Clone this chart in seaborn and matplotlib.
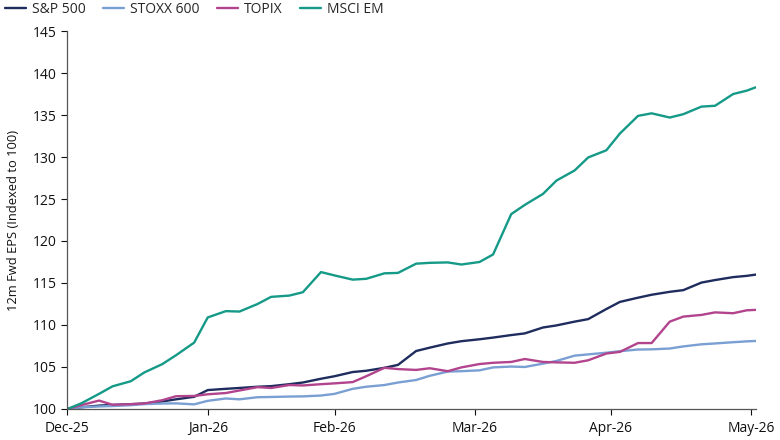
import pandas as pd
import matplotlib
matplotlib.use('agg')
import matplotlib.pyplot as plt
import seaborn as sns

dates = ['2025-12-01', '2025-12-04', '2025-12-08', '2025-12-11', '2025-12-15', '2025-12-18',
         '2025-12-22', '2025-12-25', '2025-12-29', '2026-01-01', '2026-01-05', '2026-01-08',
         '2026-01-12', '2026-01-15', '2026-01-19', '2026-01-22', '2026-01-26', '2026-01-29',
         '2026-02-02', '2026-02-05', '2026-02-09', '2026-02-12', '2026-02-16', '2026-02-19',
         '2026-02-23', '2026-02-26', '2026-03-02', '2026-03-05', '2026-03-09', '2026-03-12',
         '2026-03-16', '2026-03-19', '2026-03-23', '2026-03-26', '2026-03-30', '2026-04-02',
         '2026-04-06', '2026-04-09', '2026-04-13', '2026-04-16', '2026-04-20', '2026-04-23',
         '2026-04-27', '2026-04-30', '2026-05-02']

sp500 = [100.0, 100.2, 100.4, 100.48, 100.57, 100.65, 100.9, 101.15, 101.45, 102.25,
         102.4, 102.5, 102.65, 102.72, 102.95, 103.15, 103.6, 103.9, 104.4, 104.55,
         104.9, 105.25, 106.9, 107.3, 107.8, 108.07, 108.3, 108.5, 108.8, 109.0,
         109.7, 109.95, 110.4, 110.7, 111.9, 112.75, 113.25, 113.6, 113.95, 114.15,
         115.05, 115.35, 115.7, 115.85, 116.0]

stoxx600 = [100.0, 100.2, 100.3, 100.35, 100.45, 100.58, 100.65, 100.67, 100.55, 100.97,
            101.25, 101.15, 101.4, 101.43, 101.48, 101.5, 101.6, 101.8, 102.4, 102.65,
            102.85, 103.15, 103.45, 103.95, 104.45, 104.5, 104.6, 104.95, 105.05, 105.0,
            105.4, 105.72, 106.35, 106.5, 106.7, 106.88, 107.08, 107.1, 107.2, 107.45,
            107.7, 107.8, 107.95, 108.05, 108.1]

topix = [100.0, 100.45, 101.0, 100.5, 100.57, 100.65, 101.05, 101.52, 101.55, 101.75,
         101.9, 102.2, 102.6, 102.5, 102.85, 102.8, 102.95, 103.05, 103.2, 103.9,
         104.9, 104.75, 104.65, 104.85, 104.5, 104.95, 105.35, 105.5, 105.6, 105.95,
         105.6, 105.55, 105.5, 105.8, 106.6, 106.8, 107.85, 107.85, 110.4, 111.0,
         111.2, 111.5, 111.4, 111.75, 111.8]

msci_em = [100.0, 100.65, 101.8, 102.7, 103.3, 104.35, 105.35, 106.4, 107.9, 110.9,
           111.65, 111.6, 112.5, 113.35, 113.5, 113.9, 116.3, 115.9, 115.4, 115.5,
           116.15, 116.2, 117.3, 117.4, 117.45, 117.2, 117.5, 118.4, 123.2, 124.3,
           125.6, 127.2, 128.4, 129.95, 130.8, 132.8, 134.9, 135.2, 134.7, 135.1,
           136.0, 136.1, 137.5, 137.9, 138.3]

series_names = ['S&P 500', 'STOXX 600', 'TOPIX', 'MSCI EM']
colors = ['#1e2c5e', '#7a9fd3', '#b2448e', '#159a88']

# x tick labels as placed on the original axis
tick_dates = ['2025-12-01', '2026-01-01', '2026-01-29', '2026-03-01', '2026-03-31', '2026-05-01']
tick_labels = ['Dec-25', 'Jan-26', 'Feb-26', 'Mar-26', 'Apr-26', 'May-26']

df = pd.DataFrame({'date': pd.to_datetime(dates),
                   'S&P 500': sp500, 'STOXX 600': stoxx600,
                   'TOPIX': topix, 'MSCI EM': msci_em})
long_df = df.melt(id_vars='date', var_name='index', value_name='eps')

sns.set_style('ticks')
plt.rcParams['font.family'] = ['Open Sans', 'DejaVu Sans']

fig = plt.figure(figsize=(7.8, 4.4), dpi=100)
ax = fig.add_axes([0.0863, 0.0705, 0.8827, 0.859])

sns.lineplot(data=long_df, x='date', y='eps', hue='index', hue_order=series_names,
             palette=colors, linewidth=1.7, estimator=None, sort=True, ax=ax)

ax.set_ylim(100, 145)
ax.set_yticks(range(100, 146, 5))
ax.set_xlim(pd.Timestamp('2025-12-01'), pd.Timestamp('2026-05-02'))
ax.set_xticks(pd.to_datetime(tick_dates))
ax.set_xticklabels(tick_labels)
ax.set_xlabel('')
ax.set_ylabel('12m Fwd EPS (Indexed to 100)', fontsize=9.3, color='#111111', labelpad=9)
ax.tick_params(axis='both', labelsize=10, colors='#111111', length=4, width=0.8)
ax.tick_params(axis='x', pad=5)
for side in ['left', 'bottom']:
    ax.spines[side].set_color('#555555')
    ax.spines[side].set_linewidth(0.9)
sns.despine(ax=ax)

handles, labels = ax.get_legend_handles_labels()
ax.get_legend().remove()
fig.legend(handles, labels, loc='upper left', bbox_to_anchor=(0.0, 1.008), ncol=4,
           frameon=False, fontsize=10, handlelength=1.5, handletextpad=0.4,
           columnspacing=1.3, borderaxespad=0.0, borderpad=0.37)

fig.savefig('out.png', dpi=100)
